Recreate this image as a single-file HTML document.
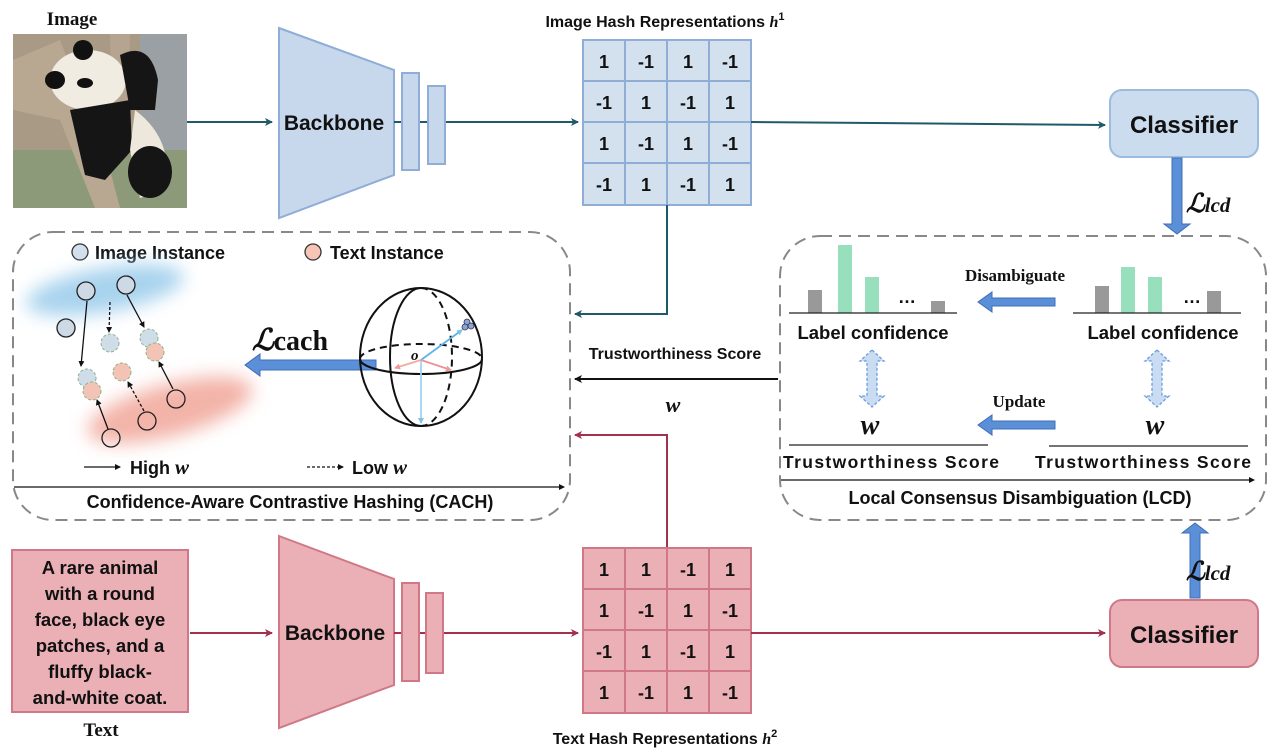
<!DOCTYPE html>
<html><head><meta charset="utf-8"><style>
html,body{margin:0;padding:0;background:#fff}
svg{display:block}
text{font-family:"Liberation Sans",sans-serif;font-weight:bold;fill:#111}
.s{font-family:"Liberation Serif",serif}
</style></head><body>
<svg width="1272" height="754" viewBox="0 0 1272 754" xmlns="http://www.w3.org/2000/svg">
<defs>
<marker id="at" markerWidth="8" markerHeight="8" refX="7" refY="4" orient="auto" markerUnits="userSpaceOnUse"><path d="M0,0 L8,4 L0,8 L2,4z" fill="#1f5a6a"/></marker>
<marker id="ar" markerWidth="8" markerHeight="8" refX="7" refY="4" orient="auto" markerUnits="userSpaceOnUse"><path d="M0,0 L8,4 L0,8 L2,4z" fill="#a3304f"/></marker>
<marker id="ak" markerWidth="8" markerHeight="8" refX="7" refY="4" orient="auto" markerUnits="userSpaceOnUse"><path d="M0,0 L8,4 L0,8 L2,4z" fill="#111"/></marker>
<marker id="ak2" markerWidth="6" markerHeight="6" refX="5" refY="3" orient="auto" markerUnits="userSpaceOnUse"><path d="M0,0 L6,3 L0,6z" fill="#111"/></marker>
<marker id="ab" markerWidth="6" markerHeight="6" refX="5" refY="3" orient="auto" markerUnits="userSpaceOnUse"><path d="M0,0 L6,3 L0,6z" fill="#7cc3ea"/></marker>
<marker id="ap" markerWidth="6" markerHeight="6" refX="5" refY="3" orient="auto" markerUnits="userSpaceOnUse"><path d="M0,0 L6,3 L0,6z" fill="#ee9a9a"/></marker>
<filter id="bl" x="-50%" y="-50%" width="200%" height="200%"><feGaussianBlur stdDeviation="9"/></filter>
</defs>

<!-- Image -->
<text x="72" y="25" class="s" font-size="19" text-anchor="middle">Image</text>
<rect x="13" y="34" width="174" height="174" fill="#a99a85"/>
<rect x="140" y="34" width="47" height="120" fill="#9aa0a3"/>
<rect x="13" y="150" width="174" height="58" fill="#8d9a7a"/>
<path d="M13,60 L60,40 L110,170 L120,208 L95,208 L60,120 L13,110z" fill="#b8a892"/>
<path d="M110,34 L130,34 L128,110 L112,110z" fill="#b5a590"/>
<ellipse cx="88" cy="80" rx="38" ry="30" fill="#f1ece2"/>
<circle cx="83" cy="50" r="10" fill="#111"/>
<ellipse cx="55" cy="80" rx="10" ry="9" fill="#111"/>
<ellipse cx="85" cy="83" rx="8" ry="5" fill="#111"/>
<path d="M120,55 Q150,40 158,80 L155,110 L130,110z" fill="#151515"/>
<path d="M70,110 L130,100 L132,150 L105,180 L85,175z" fill="#151515"/>
<path d="M135,110 Q175,140 165,190 L140,198 L130,150z" fill="#eee8dc"/>
<ellipse cx="150" cy="172" rx="22" ry="26" fill="#151515"/>

<!-- top backbone -->
<line x1="187" y1="122" x2="272" y2="122" stroke="#1f5a6a" stroke-width="2" marker-end="url(#at)"/>
<polygon points="279,28 394,70 394,175 279,218" fill="#c8d8ec" stroke="#8fadd6" stroke-width="2"/>
<text x="334" y="130" font-size="21" text-anchor="middle">Backbone</text>
<line x1="394" y1="122" x2="578" y2="122" stroke="#1f5a6a" stroke-width="2" marker-end="url(#at)"/>
<rect x="402" y="73" width="17" height="97" fill="#c8d8ec" stroke="#8fadd6" stroke-width="2"/>
<rect x="428" y="86" width="17" height="78" fill="#c8d8ec" stroke="#8fadd6" stroke-width="2"/>

<!-- top grid -->
<text x="665" y="27" font-size="16" text-anchor="middle">Image Hash Representations <tspan class="s" font-style="italic">h</tspan><tspan font-size="11" dy="-7">1</tspan></text>
<rect x="583" y="40" width="168" height="165" fill="#d3e0ee" stroke="#8fadd6" stroke-width="2"/>
<g stroke="#8fadd6" stroke-width="2">
<line x1="625" y1="40" x2="625" y2="205"/><line x1="667" y1="40" x2="667" y2="205"/><line x1="709" y1="40" x2="709" y2="205"/>
<line x1="583" y1="81" x2="751" y2="81"/><line x1="583" y1="122" x2="751" y2="122"/><line x1="583" y1="163" x2="751" y2="163"/>
</g>
<g font-size="18" text-anchor="middle">
<text x="604" y="68">1</text><text x="646" y="68">-1</text><text x="688" y="68">1</text><text x="730" y="68">-1</text>
<text x="604" y="109">-1</text><text x="646" y="109">1</text><text x="688" y="109">-1</text><text x="730" y="109">1</text>
<text x="604" y="150">1</text><text x="646" y="150">-1</text><text x="688" y="150">1</text><text x="730" y="150">-1</text>
<text x="604" y="191">-1</text><text x="646" y="191">1</text><text x="688" y="191">-1</text><text x="730" y="191">1</text>
</g>
<line x1="751" y1="122" x2="1105" y2="125" stroke="#1f5a6a" stroke-width="2" marker-end="url(#at)"/>
<rect x="1110" y="90" width="148" height="67" rx="12" fill="#cadcee" stroke="#9dbbe0" stroke-width="2"/>
<text x="1184" y="133" font-size="24" text-anchor="middle">Classifier</text>
<polygon points="1172,158 1182,158 1182,224 1190,224 1177,234 1164,224 1172,224" fill="#5b8fd8" stroke="#3e6fb5" stroke-width="1"/>
<text x="1186" y="212" class="s" font-style="italic" font-size="26" font-weight="normal">ℒ<tspan font-size="21">lcd</tspan></text>

<!-- connectors -->
<polyline points="667,205 667,314 575,314" fill="none" stroke="#1f5a6a" stroke-width="2" marker-end="url(#at)"/>
<line x1="778" y1="379" x2="575" y2="379" stroke="#111" stroke-width="2" marker-end="url(#ak)"/>
<text x="675" y="359" font-size="16" text-anchor="middle">Trustworthiness Score</text>
<text x="673" y="412" class="s" font-style="italic" font-size="22" text-anchor="middle">w</text>
<polyline points="667,548 667,435 575,435" fill="none" stroke="#a3304f" stroke-width="2" marker-end="url(#ar)"/>

<!-- CACH box -->
<rect x="13" y="232" width="557" height="288" rx="40" fill="none" stroke="#888" stroke-width="2" stroke-dasharray="12,7"/>
<circle cx="80" cy="252" r="8" fill="#d3e0ee" stroke="#333" stroke-width="1.3"/>
<text x="95" y="259" font-size="18">Image Instance</text>
<circle cx="313" cy="252" r="8" fill="#f6c5b6" stroke="#333" stroke-width="1.3"/>
<text x="330" y="259" font-size="18">Text Instance</text>
<ellipse cx="105" cy="290" rx="80" ry="22" fill="#a8d3ee" filter="url(#bl)" transform="rotate(-10 105 290)"/>
<ellipse cx="170" cy="410" rx="85" ry="26" fill="#f3b3a8" filter="url(#bl)" transform="rotate(-15 170 410)"/>
<g stroke="#111" stroke-width="1.3">
<line x1="87" y1="301" x2="81" y2="366" marker-end="url(#ak2)"/>
<line x1="127" y1="295" x2="144" y2="327" marker-end="url(#ak2)"/>
<line x1="173" y1="389" x2="159" y2="362" marker-end="url(#ak2)"/>
<line x1="108" y1="429" x2="97" y2="400" marker-end="url(#ak2)"/>
<line x1="110" y1="302" x2="109" y2="332" stroke-dasharray="3,2" marker-end="url(#ak2)"/>
<line x1="144" y1="411" x2="128" y2="382" stroke-dasharray="3,2" marker-end="url(#ak2)"/>
</g>
<g stroke-dasharray="3,2" stroke="#8fb08a" stroke-width="1">
<circle cx="110" cy="343" r="9" fill="#cfdde9"/>
<circle cx="149" cy="338" r="9" fill="#cfdde9"/>
<circle cx="155" cy="352" r="9" fill="#f3c3b6"/>
<circle cx="122" cy="372" r="9" fill="#f3c3b6"/>
<circle cx="87" cy="378" r="9" fill="#cfdde9"/>
<circle cx="92" cy="391" r="9" fill="#f3c3b6"/>
</g>
<g fill="#cdd9e5" stroke="#222" stroke-width="1.3">
<circle cx="86" cy="291" r="9"/><circle cx="126" cy="285" r="9"/><circle cx="66" cy="328" r="9"/>
</g>
<g fill="none" stroke="#222" stroke-width="1.3">
<circle cx="176" cy="399" r="9"/><circle cx="147" cy="421" r="9"/><circle cx="111" cy="438" r="9"/>
</g>
<line x1="84" y1="467" x2="120" y2="467" stroke="#111" stroke-width="1.3" marker-end="url(#ak2)"/>
<text x="130" y="474" font-size="18">High <tspan class="s" font-style="italic" font-size="21">w</tspan></text>
<line x1="307" y1="467" x2="343" y2="467" stroke="#111" stroke-width="1.3" stroke-dasharray="3,2" marker-end="url(#ak2)"/>
<text x="352" y="474" font-size="18">Low <tspan class="s" font-style="italic" font-size="21">w</tspan></text>
<line x1="14" y1="487" x2="564" y2="487" stroke="#111" stroke-width="1.3" marker-end="url(#ak2)"/>
<text x="290" y="508" font-size="18" text-anchor="middle">Confidence-Aware Contrastive Hashing (CACH)</text>
<text x="252" y="350" class="s" font-style="italic" font-size="30" font-weight="normal">ℒ<tspan font-style="normal" font-size="28">cach</tspan></text>
<polygon points="376,360 260,360 260,354 245,365 260,376 260,370 376,370" fill="#5b8fd8" stroke="#3e6fb5" stroke-width="1"/>
<!-- sphere -->
<g fill="none" stroke="#111" stroke-width="2">
<ellipse cx="421" cy="357" rx="61" ry="69"/>
<path d="M360,359 A61,15 0 0,0 482,359"/>
<path d="M360,359 A61,15 0 0,1 482,359" stroke-dasharray="7,5"/>
<path d="M421,288 A31,69 0 0,0 421,426"/>
<path d="M421,288 A31,69 0 0,1 421,426" stroke-dasharray="7,5"/>
</g>
<text x="411" y="360" class="s" font-style="italic" font-size="15" font-weight="normal">o</text>
<g stroke-width="1.8" fill="none">
<line x1="421" y1="360" x2="462" y2="330" stroke="#5db3e8" marker-end="url(#ab)"/>
<line x1="421" y1="360" x2="421" y2="423" stroke="#9fd3f2" marker-end="url(#ab)"/>
<line x1="421" y1="360" x2="395" y2="368" stroke="#f1aaa0" marker-end="url(#ap)"/>
<line x1="421" y1="360" x2="451" y2="370" stroke="#ee9098" marker-end="url(#ap)"/>
</g>
<circle cx="467" cy="322" r="3" fill="#8aa4d8" stroke="#334" stroke-width="0.8"/>
<circle cx="471" cy="326" r="3" fill="#8aa4d8" stroke="#334" stroke-width="0.8"/>
<circle cx="465" cy="327" r="3" fill="#8aa4d8" stroke="#334" stroke-width="0.8"/>

<!-- LCD box -->
<rect x="780" y="236" width="486" height="284" rx="40" fill="none" stroke="#888" stroke-width="2" stroke-dasharray="12,7"/>
<g fill="#999">
<rect x="808" y="290" width="14" height="23"/><rect x="931" y="301" width="14" height="12"/>
<rect x="1095" y="286" width="14" height="27"/><rect x="1207" y="291" width="14" height="22"/>
</g>
<g fill="#97dfbd">
<rect x="838" y="245" width="14" height="68"/><rect x="865" y="277" width="14" height="36"/>
<rect x="1121" y="267" width="14" height="46"/><rect x="1148" y="277" width="14" height="36"/>
</g>
<text x="898" y="303" font-size="18">…</text><text x="1183" y="303" font-size="18">…</text>
<line x1="789" y1="313" x2="957" y2="313" stroke="#222" stroke-width="1.3"/>
<line x1="1073" y1="313" x2="1241" y2="313" stroke="#222" stroke-width="1.3"/>
<text x="873" y="339" font-size="18.5" text-anchor="middle">Label confidence</text>
<text x="1163" y="339" font-size="18.5" text-anchor="middle">Label confidence</text>
<text x="1015" y="281" class="s" font-size="17" text-anchor="middle">Disambiguate</text>
<polygon points="1055,298 992,298 992,292 978,302 992,312 992,306 1055,306" fill="#5b8fd8" stroke="#3e6fb5" stroke-width="1"/>
<text x="1019" y="407" class="s" font-size="17" text-anchor="middle">Update</text>
<polygon points="1055,421 992,421 992,415 978,425 992,435 992,429 1055,429" fill="#5b8fd8" stroke="#3e6fb5" stroke-width="1"/>
<g fill="#cadcf2" stroke="#6a9be0" stroke-width="1.3" stroke-dasharray="3,2">
<polygon points="872,350 884,361 877,361 877,396 884,396 872,407 860,396 867,396 867,361 860,361"/>
<polygon points="1157,350 1169,361 1162,361 1162,396 1169,396 1157,407 1145,396 1152,396 1152,361 1145,361"/>
</g>
<text x="870" y="434" class="s" font-style="italic" font-size="28" text-anchor="middle">w</text>
<text x="1155" y="434" class="s" font-style="italic" font-size="28" text-anchor="middle">w</text>
<line x1="789" y1="445" x2="988" y2="445" stroke="#222" stroke-width="1.3"/>
<line x1="1049" y1="446" x2="1248" y2="446" stroke="#222" stroke-width="1.3"/>
<text x="783" y="468" font-size="17.5" textLength="216">Trustworthiness  Score</text>
<text x="1035" y="468" font-size="17.5" textLength="216">Trustworthiness  Score</text>
<line x1="781" y1="480" x2="1254" y2="480" stroke="#111" stroke-width="1.3" marker-end="url(#ak2)"/>
<text x="1020" y="504" font-size="18" text-anchor="middle">Local Consensus Disambiguation (LCD)</text>

<!-- bottom -->
<rect x="12" y="550" width="176" height="162" fill="#ebb0b6" stroke="#d07888" stroke-width="2"/>
<g font-size="18.5" text-anchor="middle">
<text x="100" y="574">A rare animal</text>
<text x="100" y="600">with a round</text>
<text x="100" y="626">face, black eye</text>
<text x="100" y="652">patches, and a</text>
<text x="100" y="678">fluffy black-</text>
<text x="100" y="704">and-white coat.</text>
</g>
<text x="101" y="736" class="s" font-size="19" text-anchor="middle">Text</text>
<line x1="190" y1="633" x2="272" y2="633" stroke="#a3304f" stroke-width="2" marker-end="url(#ar)"/>
<polygon points="279,536 394,579 394,685 279,728" fill="#ebb0b6" stroke="#d07888" stroke-width="2"/>
<text x="335" y="640" font-size="21" text-anchor="middle">Backbone</text>
<line x1="394" y1="633" x2="578" y2="633" stroke="#a3304f" stroke-width="2" marker-end="url(#ar)"/>
<rect x="402" y="583" width="17" height="98" fill="#ebb0b6" stroke="#d07888" stroke-width="2"/>
<rect x="426" y="593" width="17" height="80" fill="#ebb0b6" stroke="#d07888" stroke-width="2"/>
<rect x="583" y="548" width="168" height="165" fill="#ebb0b6" stroke="#d07888" stroke-width="2"/>
<g stroke="#d07888" stroke-width="2">
<line x1="625" y1="548" x2="625" y2="713"/><line x1="667" y1="548" x2="667" y2="713"/><line x1="709" y1="548" x2="709" y2="713"/>
<line x1="583" y1="589" x2="751" y2="589"/><line x1="583" y1="630" x2="751" y2="630"/><line x1="583" y1="671" x2="751" y2="671"/>
</g>
<g font-size="18" text-anchor="middle">
<text x="604" y="576">1</text><text x="646" y="576">1</text><text x="688" y="576">-1</text><text x="730" y="576">1</text>
<text x="604" y="617">1</text><text x="646" y="617">-1</text><text x="688" y="617">1</text><text x="730" y="617">-1</text>
<text x="604" y="658">-1</text><text x="646" y="658">1</text><text x="688" y="658">-1</text><text x="730" y="658">1</text>
<text x="604" y="699">1</text><text x="646" y="699">-1</text><text x="688" y="699">1</text><text x="730" y="699">-1</text>
</g>
<text x="665" y="744" font-size="16" text-anchor="middle">Text Hash Representations <tspan class="s" font-style="italic">h</tspan><tspan font-size="11" dy="-7">2</tspan></text>
<line x1="751" y1="633" x2="1105" y2="633" stroke="#a3304f" stroke-width="2" marker-end="url(#ar)"/>
<rect x="1110" y="600" width="148" height="67" rx="12" fill="#ebb0b6" stroke="#d07888" stroke-width="2"/>
<text x="1184" y="643" font-size="24" text-anchor="middle">Classifier</text>
<polygon points="1190,598 1200,598 1200,533 1208,533 1195,523 1182,533 1190,533" fill="#5b8fd8" stroke="#3e6fb5" stroke-width="1"/>
<text x="1186" y="580" class="s" font-style="italic" font-size="26" font-weight="normal">ℒ<tspan font-size="21">lcd</tspan></text>
</svg>
</body></html>
